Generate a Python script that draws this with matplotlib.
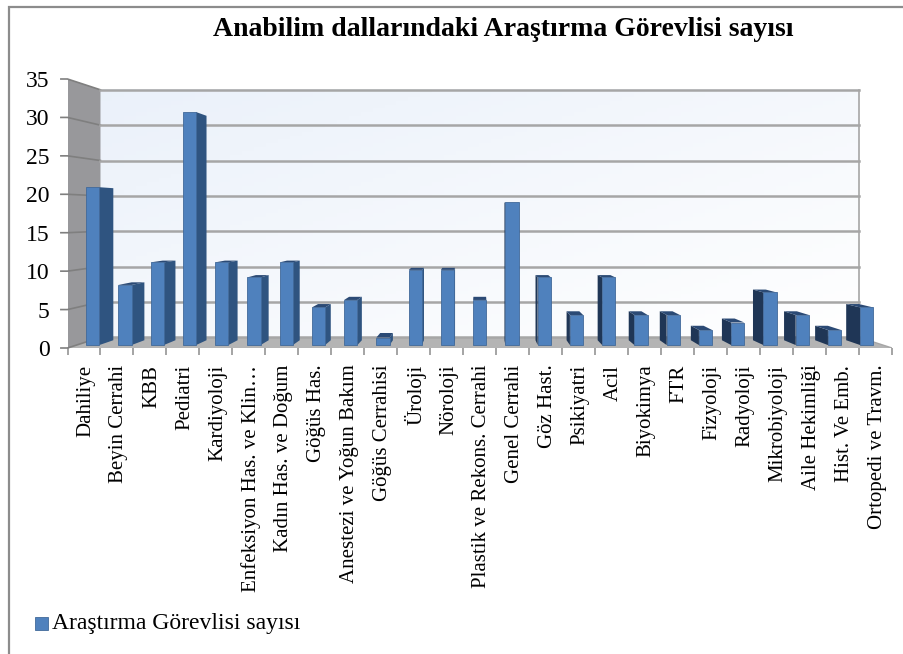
import numpy as np
import matplotlib
matplotlib.use('Agg')
from matplotlib import pyplot as plt
from matplotlib.lines import Line2D
from matplotlib.patches import Polygon, Rectangle

plt.rcParams['font.family'] = ['Liberation Serif', 'DejaVu Serif']

title = 'Anabilim dallarındaki Araştırma Görevlisi sayısı'
series_name = 'Araştırma Görevlisi sayısı'
categories = ['Dahiliye', 'Beyin Cerrahi', 'KBB', 'Pediatri', 'Kardiyoloji',
              'Enfeksiyon Has. ve Klin…', 'Kadın Has. ve Doğum', 'Göğüs Has.',
              'Anestezi ve Yoğun Bakım', 'Göğüs Cerrahisi', 'Üroloji', 'Nöroloji',
              'Plastik ve Rekons. Cerrahi', 'Genel Cerrahi', 'Göz Hast.', 'Psikiyatri',
              'Acil', 'Biyokimya', 'FTR', 'Fizyoloji', 'Radyoloji', 'Mikrobiyoloji',
              'Aile Hekimliği', 'Hist. Ve Emb.', 'Ortopedi ve Travm.']
values = [21, 8, 11, 31, 11, 9, 11, 5, 6, 1, 10, 10, 6, 19, 9, 4, 9, 4, 4, 2, 3, 7, 4, 2, 5]
y_ticks = [0, 5, 10, 15, 20, 25, 30, 35]

W, H = 904, 654
n = len(categories)
xc = n / 2      # vanishing point, category units
vc = 17.4       # vanishing point, value units
BACK = 0.92     # depth of back wall
BAR_F = 0.978   # depth of bar front
BAR_B = 0.942   # depth of bar back
BAR_W = 0.41


def pr(x, v, s):
    # perspective towards the vanishing point
    return (xc + (x - xc) * s, vc + (v - vc) * s)


fig = plt.figure(figsize=(W / 100, H / 100), dpi=100)
# only the top and left edges of the frame are in the picture
fig.add_artist(Line2D([8.5 / W, 8.5 / W, 1], [0, 1 - 7 / H, 1 - 7 / H], color='#8c8c8c', lw=1.6,
                      transform=fig.transFigure, solid_joinstyle='miter', zorder=-1))
ax = fig.add_axes([67.5 / W, 1 - 348 / H, (892 - 67.5) / W, (348 - 79) / H])
ax.set_xlim(0, n)
ax.set_ylim(0, 35)
ax.patch.set_visible(False)

# back wall with gradient
x0, v0 = pr(0, 0, BACK)
x1, v1 = pr(n, 35, BACK)
gx, gy = np.meshgrid(np.linspace(0, 1, 64), np.linspace(0, 1, 64))
g = (gx + (1 - gy)) / 2
grad = np.dstack([0.92 + 0.08 * g, 0.945 + 0.055 * g, 0.98 + 0.02 * g])
ax.imshow(grad, extent=(x0, x1, v0, v1), origin='lower', aspect='auto', zorder=1)
ax.set_xlim(0, n)
ax.set_ylim(0, 35)

# left wall and floor
ax.add_patch(Polygon([pr(0, 0, 1), pr(0, 35, 1), pr(0, 35, BACK), pr(0, 0, BACK)],
                     fc='#98989b', ec='none', zorder=2))
ax.add_patch(Polygon([pr(0, 0, 1), pr(n, 0, 1), pr(n, 0, BACK), pr(0, 0, BACK)],
                     fc='#b4b4b4', ec='none', zorder=2))

# gridlines, back wall and left wall
for t in y_ticks:
    a = pr(0, t, 1)
    b = pr(0, t, BACK)
    c = pr(n, t, BACK)
    ax.plot([a[0] - 0.2, a[0], b[0]], [a[1], a[1], b[1]], color='#7f7f7f', lw=1.2, zorder=3,
            solid_joinstyle='miter', clip_on=False)
    ax.plot([b[0], c[0]], [b[1], c[1]], color='#a6a6a6', lw=1.8, zorder=3)
p = pr(n, 0, BACK)
q = pr(n, 35, BACK)
ax.plot([p[0], q[0]], [p[1], q[1]], color='#a6a6a6', lw=1.2, zorder=3)
ax.plot([pr(n, 0, BACK)[0], n], [pr(n, 0, BACK)[1], 0], color='#a6a6a6', lw=1.0, zorder=3)

# bars, back to front
for i, v in enumerate(values):
    l = i + 0.5 - BAR_W / 2
    r = i + 0.5 + BAR_W / 2
    z = 4
    side = '#2f5480' if r < xc else '#1f3656'
    if r < xc:
        ax.add_patch(Polygon([pr(r, 0, BAR_F), pr(r, v, BAR_F), pr(r, v, BAR_B), pr(r, 0, BAR_B)],
                             fc=side, ec='none', zorder=z))
    if l > xc:
        ax.add_patch(Polygon([pr(l, 0, BAR_F), pr(l, v, BAR_F), pr(l, v, BAR_B), pr(l, 0, BAR_B)],
                             fc=side, ec='none', zorder=z))
    if v < vc:
        ax.add_patch(Polygon([pr(l, v, BAR_F), pr(r, v, BAR_F), pr(r, v, BAR_B), pr(l, v, BAR_B)],
                             fc='#2b4a75', ec='none', zorder=z))
    bl = pr(l, 0, BAR_F)
    tr = pr(r, v, BAR_F)
    ax.bar(bl[0], tr[1] - bl[1], width=tr[0] - bl[0], bottom=bl[1], align='edge',
           color='#4f81bd', edgecolor='#41699a', linewidth=0.6, zorder=z + 0.5)

ax.set_xticks(np.arange(n + 1))
ax.set_xticklabels([])
ax.set_yticks(y_ticks)
ax.tick_params(axis='y', length=0, labelsize=17, pad=13, labelcolor='black')
ax.tick_params(axis='x', length=5, width=1.1, color='#8c8c8c')
for s in ax.spines.values():
    s.set_visible(False)

# category labels, rotated
for i, c in enumerate(categories):
    ax.annotate(c, (i + 0.5, 0), xytext=(1.2, -12), textcoords='offset points', rotation=90,
                ha='center', va='top', fontsize=15, color='black', annotation_clip=False)

fig.text(503 / W, 1 - 29 / H, title, ha='center', va='center', fontsize=20, fontweight='bold')

# legend
fig.add_artist(Rectangle((35 / W, 1 - 630 / H), 13 / W, 13 / H, transform=fig.transFigure,
                         fc='#4f81bd', ec='#41699a', lw=0.6))
fig.text(52 / W, 1 - 624 / H, series_name, ha='left', va='center', fontsize=17)

fig.savefig('out.png', dpi=100)
